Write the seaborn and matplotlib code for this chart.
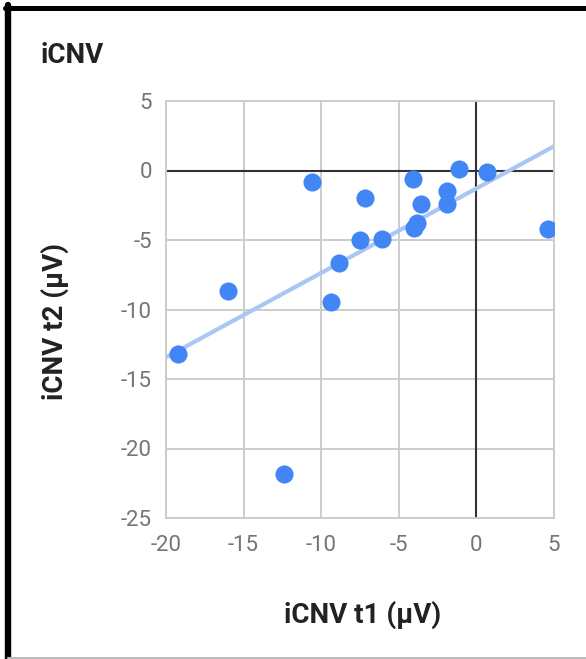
import matplotlib
matplotlib.use("Agg")
import matplotlib.pyplot as plt
from matplotlib.lines import Line2D
import seaborn as sns

# iCNV values
icnv_t1 = [-10.6, -7.2, -4.1, -1.1, 0.7, -1.9, -1.9, -3.6, -3.85,
           -4.0, 4.6, -7.5, -6.1, -8.85, -16.0, -9.4, -19.25, -12.4]
icnv_t2 = [-0.8, -2.0, -0.6, 0.1, -0.1, -1.5, -2.4, -2.4, -3.75,
           -4.15, -4.2, -5.0, -4.95, -6.65, -8.7, -9.45, -13.2, -21.8]

x_ticks = [-20, -15, -10, -5, 0, 5]
y_ticks = [-25, -20, -15, -10, -5, 0, 5]

sns.set_style("white")
plt.rcParams['font.family'] = ['Roboto', 'DejaVu Sans']
plt.rcParams['axes.unicode_minus'] = False

W, H = 586, 659
fig = plt.figure(figsize=(W / 100, H / 100), dpi=100)
ax = fig.add_axes([166 / W, 1 - 518 / H, 388 / W, 417 / H])

ax.set_xlim(x_ticks[0], x_ticks[-1])
ax.set_ylim(y_ticks[0], y_ticks[-1])
ax.set_xticks(x_ticks)
ax.set_yticks(y_ticks)

grid_col = '#cccccc'
ax.grid(True, color=grid_col, linewidth=1.4)
for s in ax.spines.values():
    s.set_color(grid_col)
    s.set_linewidth(1.4)
ax.axhline(0, color='#333333', linewidth=1.5, zorder=1.5)
ax.axvline(0, color='#333333', linewidth=1.5, zorder=1.5)

# Trendline (linear fit)
sns.regplot(x=icnv_t1, y=icnv_t2, scatter=False, ci=None, truncate=False, ax=ax,
            line_kws=dict(color='#a9c6f5', linewidth=3, zorder=2))

sns.scatterplot(x=icnv_t1, y=icnv_t2, s=170, color='#4285F4', linewidth=0,
                zorder=3, ax=ax)

ax.tick_params(axis='both', length=0, labelsize=16, labelcolor='#757575')
ax.tick_params(axis='x', pad=12)
ax.tick_params(axis='y', pad=10)

ax.set_xlabel("iCNV t1 (μV)", fontsize=20, fontweight='bold', color='#222222')
ax.set_ylabel("iCNV t2 (μV)", fontsize=20, fontweight='bold', color='#222222')
ax.xaxis.label.set_va('baseline')
ax.xaxis.set_label_coords((363 - 166) / 388, (518 - 623) / 417)
ax.yaxis.label.set_va('center')
ax.yaxis.set_label_coords((55 - 166) / 388, (518 - 322) / 417)

fig.text(41 / W, 1 - 63 / H, "iCNV", fontsize=20, fontweight='bold',
         color='#222222', va='baseline', ha='left')

# frame around the screenshot
fig.add_artist(Line2D([5 / W, 1], [1 - 7.5 / H, 1 - 7.5 / H], color='black',
                      linewidth=3.6, transform=fig.transFigure))
fig.add_artist(Line2D([8 / W, 8 / W], [0, 1 - 5 / H], color='black',
                      linewidth=4.6, transform=fig.transFigure))
fig.add_artist(Line2D([8 / W, 1], [1 / H, 1 / H], color='#bbbbbb',
                      linewidth=1.5, transform=fig.transFigure))

fig.savefig("out.png", dpi=100)
